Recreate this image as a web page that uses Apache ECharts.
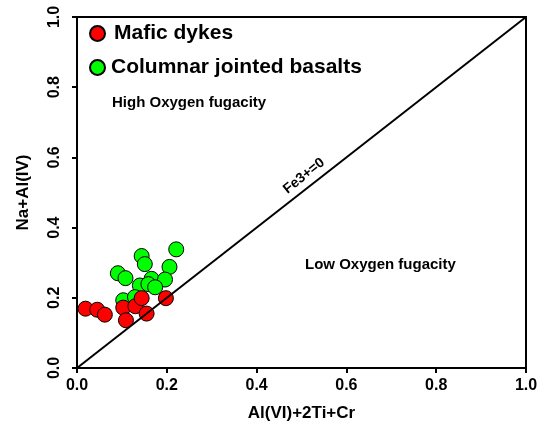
<!DOCTYPE html>
<html>
<head>
<meta charset="utf-8">
<script src="https://cdn.jsdelivr.net/npm/echarts@6/dist/echarts.min.js"></script>
<style>
  html, body { margin: 0; padding: 0; background: #fff; }
  #main { width: 547px; height: 427px; }
</style>
</head>
<body>
<div id="main"></div>
<script>
// values
var dykesX = [0.019, 0.045, 0.062, 0.103, 0.109, 0.130, 0.144, 0.155, 0.198];
var dykesY = [0.169, 0.166, 0.152, 0.172, 0.136, 0.176, 0.199, 0.155, 0.199];
var basaltX = [0.221, 0.144, 0.151, 0.206, 0.091, 0.108, 0.166, 0.196, 0.140, 0.159, 0.174, 0.103, 0.129];
var basaltY = [0.338, 0.319, 0.296, 0.288, 0.270, 0.256, 0.254, 0.252, 0.235, 0.239, 0.230, 0.193, 0.202];
var lineX = [0, 1];
var lineY = [0, 1];
var ticks = [0, 0.2, 0.4, 0.6, 0.8, 1.0];

function pairs(xs, ys) {
  return xs.map(function (x, i) { return [x, ys[i]]; });
}

var font = 'Liberation Sans';
var chart = echarts.init(document.getElementById('main'));

var axisCommon = {
  type: 'value',
  min: ticks[0],
  max: ticks[ticks.length - 1],
  interval: 0.2,
  axisLine: { lineStyle: { color: '#000', width: 2 } },
  axisTick: { length: 5, lineStyle: { color: '#000', width: 2 } },
  splitLine: { show: false },
  nameLocation: 'middle',
  nameTextStyle: { color: '#000', fontFamily: font, fontWeight: 'bold', fontSize: 17 }
};

var option = {
  backgroundColor: '#fff',
  animation: false,
  grid: {
    left: 77, top: 17, right: 21, bottom: 56,
    show: true, borderColor: '#000', borderWidth: 2
  },
  legend: {
    orient: 'vertical',
    left: 84,
    top: 18,
    itemWidth: 17,
    itemHeight: 15,
    itemGap: 13,
    data: [
      { name: 'Mafic dykes', icon: 'circle' },
      { name: 'Columnar jointed basalts', icon: 'circle' }
    ],
    formatter: function (name) {
      return name === 'Mafic dykes' ? '{a|' + name + '}' : '{b|' + name + '}';
    },
    textStyle: {
      color: '#000',
      fontFamily: font,
      fontWeight: 'bold',
      rich: {
        a: { fontSize: 21, fontWeight: 'bold', fontFamily: font, color: '#000', padding: [0, 0, 0, 3] },
        b: { fontSize: 21, fontWeight: 'bold', fontFamily: font, color: '#000' }
      }
    }
  },
  xAxis: Object.assign({}, axisCommon, {
    name: 'Al(VI)+2Ti+Cr',
    nameGap: 37,
    axisLabel: {
      color: '#000', fontFamily: font, fontWeight: 'bold', fontSize: 16, margin: 10,
      formatter: function (v) { return v.toFixed(1); }
    }
  }),
  yAxis: Object.assign({}, axisCommon, {
    name: 'Na+Al(IV)',
    nameGap: 45,
    nameRotate: 90,
    axisLabel: {
      color: '#000', fontFamily: font, fontWeight: 'bold', fontSize: 16, margin: 14,
      rotate: 90,
      formatter: function (v) { return v.toFixed(1); }
    }
  }),
  graphic: [
    { type: 'text', left: 112, top: 95,
      style: { text: 'High Oxygen fugacity', fill: '#000', font: 'bold 15px "Liberation Sans"' } },
    { type: 'text', left: 305, top: 257,
      style: { text: 'Low Oxygen fugacity', fill: '#000', font: 'bold 15px "Liberation Sans"' } },
    { type: 'text', x: 304, y: 176, rotation: 38.5 * Math.PI / 180,
      style: { text: 'Fe3+=0', fill: '#000', font: 'bold 14px "Liberation Sans"',
               align: 'center', verticalAlign: 'middle' } }
  ],
  series: [
    {
      type: 'line',
      data: pairs(lineX, lineY),
      showSymbol: false,
      lineStyle: { color: '#000', width: 2 },
      silent: true
    },
    {
      name: 'Columnar jointed basalts',
      type: 'scatter',
      data: pairs(basaltX, basaltY),
      symbolSize: 15,
      itemStyle: { color: '#00ff00', borderColor: '#000', borderWidth: 1, opacity: 1 }
    },
    {
      name: 'Mafic dykes',
      type: 'scatter',
      data: pairs(dykesX, dykesY),
      symbolSize: 15,
      itemStyle: { color: '#ff0000', borderColor: '#000', borderWidth: 1, opacity: 1 }
    }
  ]
};

chart.setOption(option);
</script>
</body>
</html>
